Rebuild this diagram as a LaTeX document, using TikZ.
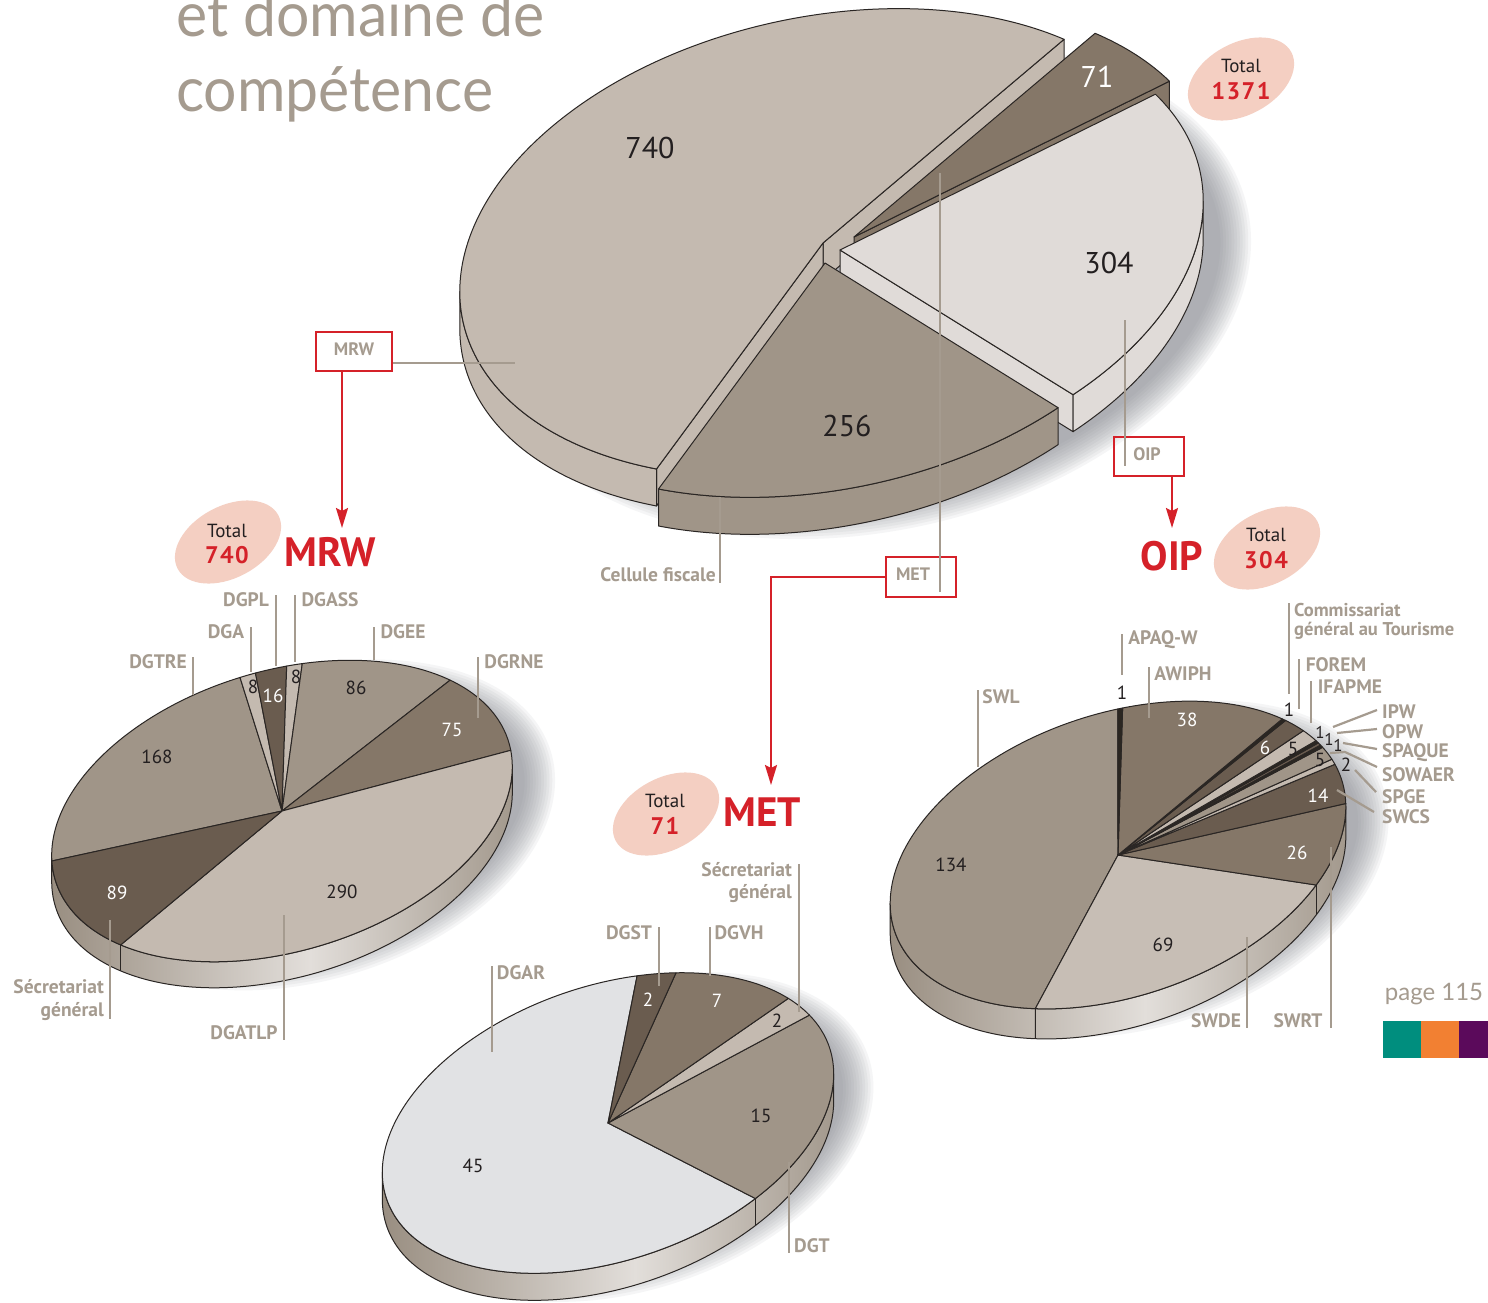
\documentclass[tikz,border=0pt]{standalone}
\usepackage{fontspec}
\setmainfont{PT Sans}
\newfontfamily\titlefont{Lato}[FakeStretch=0.95]
\newfontfamily\pagefont{Lato}
\usetikzlibrary{arrows.meta}
\definecolor{edgec}{HTML}{2A2624}
\definecolor{labg}{HTML}{A59B8F}
\definecolor{redc}{HTML}{D52129}
\definecolor{pinkc}{HTML}{F4CFC2}
\definecolor{txtc}{HTML}{231F20}
\definecolor{cL}{HTML}{C4BAB0}
\definecolor{cLL}{HTML}{C7BEB5}
\definecolor{cM}{HTML}{A09588}
\definecolor{cD}{HTML}{857768}
\definecolor{cDD}{HTML}{6A5C4F}
\definecolor{cK}{HTML}{2B2621}
\definecolor{cW}{HTML}{E0DBD8}
\definecolor{cG}{HTML}{E1E2E4}
\definecolor{wallL}{HTML}{998E81}
\definecolor{wallM}{HTML}{E2DEDA}
\definecolor{wallR}{HTML}{A3998D}
\definecolor{shadc}{HTML}{7E8188}
\definecolor{sqA}{HTML}{008E7E}
\definecolor{sqB}{HTML}{F28032}
\definecolor{sqC}{HTML}{5B0A5B}
\pgfdeclarehorizontalshading{wallsh}{100bp}{color(0bp)=(wallL); color(25bp)=(wallL); color(53bp)=(wallM); color(75bp)=(wallR); color(100bp)=(wallR)}
\newcommand\pieset[4]{\def\pieRa{#1}\def\pieRb{#2}%
  \pgfmathsetmacro\pieDx{-(#4)*sin(#3)}%
  \pgfmathsetmacro\pieDy{-(#4)*cos(#3)}}
\newcommand\pwedge[3]{\path[pedge,fill=#1] (0pt,0pt) -- (#2:\pieRa pt and \pieRb pt) arc[start angle=#2,end angle=#3,x radius=\pieRa pt,y radius=\pieRb pt] -- cycle;}
\newcommand\pwall[3]{\path[pedge,#1] (#2:\pieRa pt and \pieRb pt) arc[start angle=#2,end angle=#3,x radius=\pieRa pt,y radius=\pieRb pt] -- ++(\pieDx pt,\pieDy pt) arc[start angle=#3,end angle=#2,x radius=\pieRa pt,y radius=\pieRb pt] -- cycle;}
\newcommand\pface[2]{\path[pedge,fill=#1] (0pt,0pt) -- (#2:\pieRa pt and \pieRb pt) -- ++(\pieDx pt,\pieDy pt) -- (\pieDx pt,\pieDy pt) -- cycle;}
\newcommand\pvline[1]{\draw[pedge] (#1:\pieRa pt and \pieRb pt) -- ++(\pieDx pt,\pieDy pt);}
\newcommand\pshadow{\foreach \k in {0,...,11}{\fill[shadc,fill opacity=0.075] (0pt,0pt) ellipse[x radius=\pieRa pt-16pt+2.8pt*\k, y radius=\pieRb pt-16pt+2.8pt*\k];}}
\tikzset{
 pedge/.style={draw=edgec,line width=1pt,line join=round},
 lead/.style={draw=labg,line width=2.2pt},
 lab/.style={text=labg,font=\bfseries\fontsize{19.5}{20}\selectfont,inner sep=0pt},
 labr/.style={lab,anchor=east},
 labl/.style={lab,anchor=west},
 num/.style={text=txtc,font=\fontsize{19}{21}\selectfont,inner sep=0pt},
 snum/.style={text=txtc,font=\fontsize{17}{19}\selectfont,inner sep=0pt},
 wnum/.style={num,text=white},
 bignum/.style={text=txtc,font=\fontsize{30}{32}\selectfont,inner sep=0pt},
 redarrow/.style={draw=redc,line width=2.2pt,-{Stealth[length=20pt,width=12pt,inset=3pt]}},
 redbox/.style={draw=redc,line width=2.2pt,inner sep=0pt},
 boxlab/.style={text=labg,font=\bfseries\fontsize{18}{20}\selectfont,inner sep=0pt},
 bigred/.style={text=redc,font=\bfseries\fontsize{41}{45}\selectfont,inner sep=0pt},
 totlab/.style={text=txtc,font=\fontsize{19}{21}\selectfont,inner sep=0pt},
 totnum/.style={text=redc,font=\bfseries\fontsize{24}{26}\selectfont\addfontfeature{LetterSpace=6},inner sep=0pt},
}
\begin{document}
\begin{tikzpicture}[x=1pt,y=1pt]
\useasboundingbox (0,0) rectangle (1488,-1303);
\fill[white] (0,0) rectangle (1488,-1303);

% ---------- title ----------
\node[anchor=base west,inner sep=0pt,text=labg,font=\titlefont\fontsize{62}{70}\selectfont] (title1) at (176,-37) {et domaine de};
\node[anchor=base west,inner sep=0pt,text=labg,font=\titlefont\fontsize{62}{70}\selectfont] (title2) at (176,-112) {compétence};

% ---------- shadows ----------
\begin{scope}[shift={(873,-290)},rotate=12.3]\pieset{368.5}{226}{12.3}{37}\pshadow\end{scope}
\begin{scope}[shift={(310,-825)},rotate=17]\pieset{237}{140}{17}{26}\pshadow\end{scope}
\begin{scope}[shift={(633,-1137)},rotate=19]\pieset{234}{137}{19}{27}\pshadow\end{scope}
\begin{scope}[shift={(1146,-869)},rotate=19]\pieset{236}{141}{19}{30}\pshadow\end{scope}

% ---------- main pie ----------
\begin{scope}[shift={(823,-243)},rotate=12.3]
 \pieset{368.5}{226}{12.3}{37}
 \pface{cL}{40.8}
 \pface{cL}{235.1}
 \pwall{fill=cL}{172.4}{235.1}
 \pwedge{cL}{40.8}{235.1}
\end{scope}
\begin{scope}[shift={(854,-237)},rotate=12.3]
 \pieset{368.5}{226}{12.3}{37}
 \pface{cD}{22.1}
 \pwedge{cD}{22.1}{40.8}
\end{scope}
\begin{scope}[shift={(840,-250)},rotate=12.3]
 \pieset{368.5}{226}{12.3}{37}
 \pface{cW}{302.3}
 \pwall{fill=cW}{302.3}{352.4}
 \pwedge{cW}{302.3}{382.1}
\end{scope}
\begin{scope}[shift={(825,-263)},rotate=12.3]
 \pieset{368.5}{226}{12.3}{37}
 \pwall{fill=cM}{235.1}{302.3}
 \pwedge{cM}{235.1}{302.3}
\end{scope}
\node[bignum] (n740) at (650,-148) {740};
\node[bignum,text=white] (n71) at (1097,-77) {71};
\node[bignum] (n304) at (1109,-263) {304};
\node[bignum] (n256) at (847,-426) {256};

% ---------- MRW pie ----------
\begin{scope}[shift={(282,-811)},rotate=17]
 \pieset{237}{140}{17}{26}
 \pwall{shading=wallsh}{169.8}{349.8}
 \pvline{-144.70}
 \pwedge{cM}{90.27}{172}
 \pwedge{cL}{86.38}{90.27}
 \pwedge{cDD}{78.60}{86.38}
 \pwedge{cL}{74.71}{78.60}
 \pwedge{cM}{32.87}{74.71}
 \pwedge{cD}{-3.62}{32.87}
 \pwedge{cL}{-144.70}{-3.62}
 \pwedge{cDD}{-188}{-144.70}
\end{scope}
\node[num] (m8a) at (253,-687) {8};
\node[wnum] (m16) at (273,-696) {16};
\node[num] (m8b) at (296,-677) {8};
\node[num] (m86) at (356,-688) {86};
\node[wnum] (m75) at (452,-730) {75};
\node[num] (m168) at (157,-757) {168};
\node[num] (m290) at (342,-892) {290};
\node[wnum] (m89) at (117,-893) {89};

% ---------- MET pie ----------
\begin{scope}[shift={(608,-1123)},rotate=19]
 \pieset{234}{137}{19}{27}
 \pwall{shading=wallsh}{168.6}{348.6}
 \pvline{-60.63}
 \pwedge{cG}{-288.8}{-60.63}
 \pwedge{cM}{-60.63}{15.43}
 \pwedge{cL}{15.43}{25.57}
 \pwedge{cD}{25.57}{61.06}
 \pwedge{cDD}{61.06}{71.2}
\end{scope}
\node[wnum] (e2a) at (648,-1000) {2};
\node[wnum] (e7) at (717,-1001) {7};
\node[num] (e2b) at (777,-1021) {2};
\node[num] (e15) at (761,-1116) {15};
\node[num] (e45) at (473,-1166) {45};

% ---------- OIP pie ----------
\begin{scope}[shift={(1118,-855)},rotate=19]
 \pieset{236}{141}{19}{30}
 \pwall{shading=wallsh}{168.4}{348.4}
 \pvline{-41.20}
 \pvline{-122.91}
 \pwedge{cM}{-281.59}{-122.91}
 \pwedge{cLL}{-122.91}{-41.20}
 \pwedge{cD}{-41.20}{-10.41}
 \pwedge{cDD}{-10.41}{6.17}
 \pwedge{cL}{6.17}{8.54}
 \pwedge{cM}{8.54}{14.46}
 \pwedge{cK}{14.46}{15.65}
 \pwedge{cDD}{15.65}{16.83}
 \pwedge{cK}{16.83}{18.01}
 \pwedge{cL}{18.01}{23.93}
 \pwedge{cDD}{23.93}{31.04}
 \pwedge{cK}{31.04}{32.22}
 \pwedge{cD}{32.22}{77.22}
 \pwedge{cK}{77.22}{78.41}
\end{scope}
\node[num] (o1a) at (1122,-693) {1};
\node[wnum] (o38) at (1187,-720) {38};
\node[num] (o1b) at (1289,-710) {1};
\node[wnum] (o6) at (1265,-748) {6};
\node[num] (o5a) at (1293,-749) {5};
\node[snum] (o1c) at (1320,-732) {1};
\node[snum] (o1d) at (1329,-739) {1};
\node[snum] (o1e) at (1338,-745) {1};
\node[num] (o5b) at (1320,-760) {5};
\node[num] (o2) at (1346,-765) {2};
\node[wnum] (o14) at (1318,-796) {14};
\node[wnum] (o26) at (1297,-853) {26};
\node[num] (o69) at (1163,-945) {69};
\node[num] (o134) at (951,-865) {134};

% ---------- totals ----------
\fill[pinkc,rotate around={28:(1241,-79)}] (1241,-79) ellipse[x radius=57pt,y radius=36pt];
\node[totlab] (t1) at (1241,-66) {Total};
\node[totnum] (t1n) at (1241,-91) {1371};
\fill[pinkc,rotate around={28:(228,-542)}] (228,-542) ellipse[x radius=57pt,y radius=36pt];
\node[totlab] (t2) at (227,-531) {Total};
\node[totnum] (t2n) at (227,-555) {740};
\fill[pinkc,rotate around={28:(1267,-548)}] (1267,-548) ellipse[x radius=57pt,y radius=36pt];
\node[totlab] (t3) at (1266,-535) {Total};
\node[totnum] (t3n) at (1266,-560) {304};
\fill[pinkc,rotate around={28:(666,-814)}] (666,-814) ellipse[x radius=57pt,y radius=36pt];
\node[totlab] (t4) at (665,-801) {Total};
\node[totnum] (t4n) at (665,-826) {71};

% ---------- big titles ----------
\node[bigred] (mrwt) at (330,-552) {MRW};
\node[bigred] (oipt) at (1172,-556) {OIP};
\node[bigred] (mett) at (762,-812) {MET};

% ---------- boxes and connectors ----------
\node[redbox,minimum width=76pt,minimum height=39pt] (mrwbox) at (354,-351.5) {};
\node[boxlab] (mrwbl) at (354,-349) {MRW};
\node[redbox,minimum width=70pt,minimum height=39pt] (oipbox) at (1149,-456.5) {};
\node[boxlab] (oipbl) at (1147,-454) {OIP};
\node[redbox,minimum width=70pt,minimum height=40pt] (metbox) at (921,-577) {};
\node[boxlab] (metbl) at (913,-574) {MET};

\coordinate (mrwA) at (342,-371);
\coordinate (mrwB) at (342,-528);
\draw[redarrow] (mrwA) -- (mrwB);
\coordinate (oipA) at (1172,-476);
\coordinate (oipB) at (1172,-528);
\draw[redarrow] (oipA) -- (oipB);
\coordinate (metB) at (771,-785);
\draw[redarrow] (metbox.west) -| (metB);

\coordinate (gA1) at (393,-363); \coordinate (gA2) at (515,-363);
\draw[lead] (gA1) -- (gA2);
\coordinate (gB1) at (1125,-320); \coordinate (gB2) at (1125,-466);
\draw[lead] (gB1) -- (gB2);
\coordinate (gC1) at (940,-173); \coordinate (gC2) at (940,-592);
\draw[lead] (gC1) -- (gC2);
\coordinate (gD1) at (720,-497); \coordinate (gD2) at (720,-583);
\draw[lead] (gD1) -- (gD2);
\node[labr] (cell) at (716,-575) {Cellule fiscale};

% ---------- MRW labels ----------
\node[lab] (l1) at (158,-662) {DGTRE};
\coordinate (l1a) at (193,-657); \coordinate (l1b) at (193,-695); \draw[lead] (l1a) -- (l1b);
\node[lab] (l2) at (226,-632) {DGA};
\coordinate (l2a) at (251,-627); \coordinate (l2b) at (251,-672); \draw[lead] (l2a) -- (l2b);
\node[lab] (l3) at (246,-600) {DGPL};
\coordinate (l3a) at (276,-595); \coordinate (l3b) at (276,-666); \draw[lead] (l3a) -- (l3b);
\node[lab] (l4) at (330,-600) {DGASS};
\coordinate (l4a) at (295,-595); \coordinate (l4b) at (295,-662); \draw[lead] (l4a) -- (l4b);
\node[lab] (l5) at (403,-632) {DGEE};
\coordinate (l5a) at (374,-627); \coordinate (l5b) at (374,-660); \draw[lead] (l5a) -- (l5b);
\node[lab] (l6) at (514,-662) {DGRNE};
\coordinate (l6a) at (478,-657); \coordinate (l6b) at (478,-718); \draw[lead] (l6a) -- (l6b);
\node[labr] (l7) at (104,-987) {Sécretariat};
\node[labr] (l7b) at (104,-1012) {général};
\coordinate (l7c) at (110,-920); \coordinate (l7d) at (110,-1019); \draw[lead] (l7c) -- (l7d);
\node[lab] (l8) at (244,-1033) {DGATLP};
\coordinate (l8a) at (284,-915); \coordinate (l8b) at (284,-1040); \draw[lead] (l8a) -- (l8b);

% ---------- MET labels ----------
\node[labr] (k1) at (792,-870) {Sécretariat};
\node[labr] (k1b) at (792,-894) {général};
\coordinate (k1c) at (799,-864); \coordinate (k1d) at (799,-1012); \draw[lead] (k1c) -- (k1d);
\node[lab] (k2) at (629,-933) {DGST};
\coordinate (k2a) at (659,-927); \coordinate (k2b) at (659,-986); \draw[lead] (k2a) -- (k2b);
\node[lab] (k3) at (739,-933) {DGVH};
\coordinate (k3a) at (710,-927); \coordinate (k3b) at (710,-976); \draw[lead] (k3a) -- (k3b);
\node[lab] (k4) at (521,-973) {DGAR};
\coordinate (k4a) at (492,-966); \coordinate (k4b) at (492,-1052); \draw[lead] (k4a) -- (k4b);
\node[lab] (k5) at (812,-1246) {DGT};
\coordinate (k5a) at (789,-1162); \coordinate (k5b) at (789,-1253); \draw[lead] (k5a) -- (k5b);

% ---------- OIP labels ----------
\node[lab] (q1) at (1001,-697) {SWL};
\coordinate (q1a) at (978,-690); \coordinate (q1b) at (978,-767); \draw[lead] (q1a) -- (q1b);
\node[lab] (q2) at (1163,-640) {APAQ-W};
\coordinate (q2a) at (1122,-634); \coordinate (q2b) at (1122,-675); \draw[lead] (q2a) -- (q2b);
\node[lab] (q3) at (1183,-674) {AWIPH};
\coordinate (q3a) at (1149,-667); \coordinate (q3b) at (1149,-718); \draw[lead] (q3a) -- (q3b);
\node[labl,font=\bfseries\fontsize{18.5}{19}\selectfont] (q4) at (1294,-610) {Commissariat};
\node[labl,font=\bfseries\fontsize{18.5}{19}\selectfont] (q4b) at (1294,-631) {général au Tourisme};
\coordinate (q4c) at (1289,-603); \coordinate (q4d) at (1289,-694); \draw[lead] (q4c) -- (q4d);
\node[lab] (q5) at (1336,-665) {FOREM};
\coordinate (q5a) at (1299,-659); \coordinate (q5b) at (1299,-709); \draw[lead] (q5a) -- (q5b);
\node[lab] (q6) at (1350,-687) {IFAPME};
\coordinate (q6a) at (1311,-681); \coordinate (q6b) at (1311,-723); \draw[lead] (q6a) -- (q6b);
\node[labl] (q7) at (1382,-712) {IPW};
\coordinate (q7a) at (1333,-727); \coordinate (q7b) at (1377,-710); \draw[lead] (q7a) -- (q7b);
\node[labl] (q8) at (1382,-732) {OPW};
\coordinate (q8a) at (1337,-733); \coordinate (q8b) at (1377,-729); \draw[lead] (q8a) -- (q8b);
\node[labl] (q9) at (1382,-753) {SPAQUE};
\coordinate (q9a) at (1343,-743); \coordinate (q9b) at (1377,-749); \draw[lead] (q9a) -- (q9b);
\node[labl] (q10) at (1382,-775) {SOWAER};
\coordinate (q10a) at (1330,-753); \coordinate (q10m) at (1345,-752); \coordinate (q10b) at (1377,-767);
\draw[lead,line join=round] (q10a) -- (q10m) -- (q10b);
\node[labl] (q11) at (1382,-797) {SPGE};
\coordinate (q11a) at (1355,-770); \coordinate (q11b) at (1376,-792); \draw[lead] (q11a) -- (q11b);
\node[labl] (q12) at (1382,-817) {SWCS};
\coordinate (q12a) at (1337,-790); \coordinate (q12b) at (1374,-812); \draw[lead] (q12a) -- (q12b);
\node[lab] (q13) at (1216,-1021) {SWDE};
\coordinate (q13a) at (1247,-937); \coordinate (q13b) at (1247,-1028); \draw[lead] (q13a) -- (q13b);
\node[lab] (q14) at (1298,-1021) {SWRT};
\coordinate (q14a) at (1331,-847); \coordinate (q14b) at (1331,-1028); \draw[lead] (q14a) -- (q14b);

% ---------- page footer ----------
\node[inner sep=0pt,text=labg,font=\pagefont\fontsize{24}{26}\selectfont] (page) at (1434,-994) {page 115};
\fill[sqA] (1383,-1021) rectangle (1421,-1058);
\fill[sqB] (1421,-1021) rectangle (1459,-1058);
\fill[sqC] (1459,-1021) rectangle (1488,-1058);
\end{tikzpicture}
\end{document}
